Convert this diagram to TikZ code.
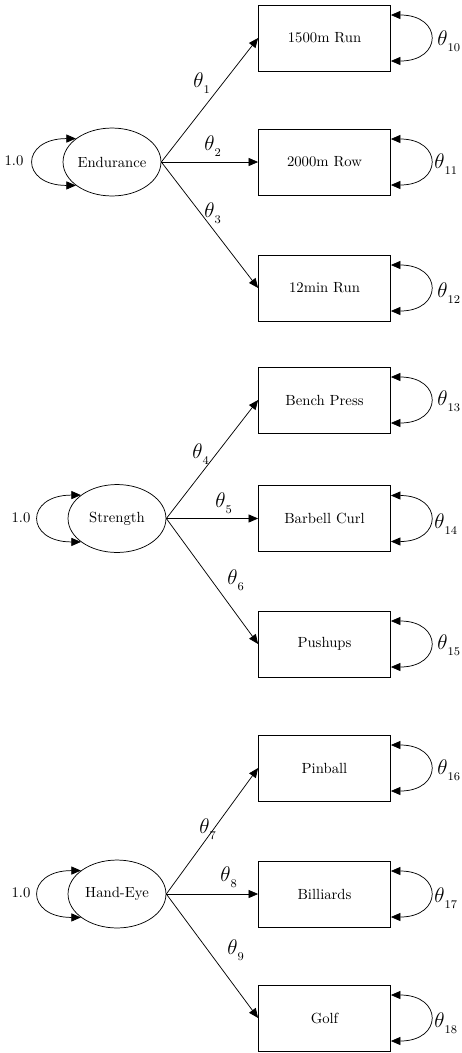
\documentclass[tikz,border=0pt]{standalone}
\usepackage{tikz}
\usetikzlibrary{shapes.geometric}
\usetikzlibrary{arrows.meta}

\newcommand{\thlab}[1]{{\Large$\theta$}\raisebox{-4.5pt}{\footnotesize #1}}

\begin{document}
\begin{tikzpicture}[x=0.68pt,y=-0.68pt,line width=0.5pt,
    latent/.style={ellipse,draw,minimum width=66.6pt,minimum height=46.2pt,inner sep=0pt},
    manifest/.style={rectangle,draw,minimum width=89.8pt,minimum height=44.9pt,inner sep=0pt},
    load/.style={-{Triangle[length=6.5pt,width=5.5pt]}},
    var/.style={{Triangle[length=6.5pt,width=5.5pt]}-{Triangle[length=6.5pt,width=5.5pt]}}]
    \useasboundingbox (0,0) rectangle (461,1053);

    % latent factors
    \node[latent] (endu) at (112,162) {Endurance};
    \node[latent] (stre) at (117,518.5) {Strength};
    \node[latent] (hand) at (117,894) {Hand-Eye};

    % observed measures
    \foreach \name/\y/\txt in {run/38/1500m Run, row/162/2000m Row, twelve/288/12min Run,
        bench/400/Bench Press, curl/518.5/Barbell Curl, push/644/Pushups,
        pin/768/Pinball, bill/894/Billiards, golf/1018/Golf}
	\node[manifest] (\name) at (324.5,\y) {\txt};

    % loadings
    \foreach \from/\to/\i/\lx/\ly in {endu/run/1/193/87, endu/row/2/204/150, endu/twelve/3/204/217,
        stre/bench/4/192/458, stre/curl/5/215/507, stre/push/6/227/584,
        hand/pin/7/199/833, hand/bill/8/220/881, hand/golf/9/227/954}
    {
	\draw[load] (\from.east) -- (\to.west);
	\node[anchor=base west,inner sep=0pt] (th\i) at (\lx,\ly) {\thlab{\i}};
    }

    % factor variances
    \foreach \from/\lx/\ly in {endu/14/161, stre/21/518, hand/21/893}
    {
	\draw[var] (\from.147) .. controls +(-56,0) and +(-56,0) .. (\from.213);
	\node (one\from) at (\lx,\ly) {1.0};
    }

    % error variances
    \foreach \to/\i/\lx/\ly in {run/10/437/45, row/11/434/168, twelve/12/437/297,
        bench/13/437/405, curl/14/434/528, push/15/437/649,
        pin/16/437/774, bill/17/434/902, golf/18/434/1027}
    {
	\draw[var] ([shift={(0,-23)}]\to.east) .. controls +(52,0) and +(52,0) .. ([shift={(0,23)}]\to.east);
	\node[anchor=base west,inner sep=0pt] (th\i) at (\lx,\ly) {\thlab{\i}};
    }
\end{tikzpicture}
\end{document}
